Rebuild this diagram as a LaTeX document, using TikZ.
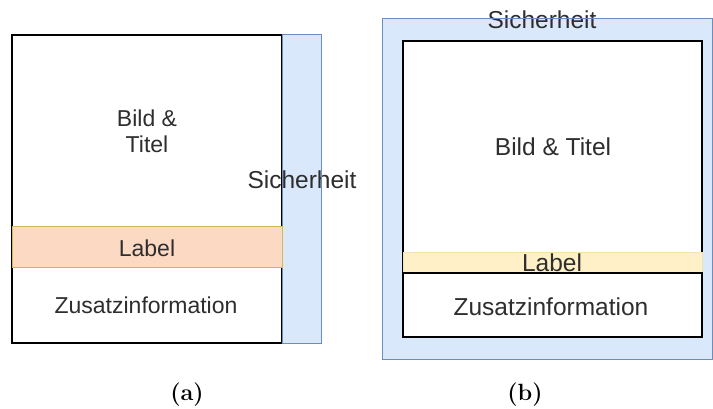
\documentclass[tikz,border=0pt]{standalone}
\usepackage{fontspec}
\newfontfamily\diagfont{Liberation Sans}
\definecolor{safefill}{HTML}{DAE8FC}
\definecolor{safeline}{HTML}{6C8EBF}
\definecolor{peachfill}{HTML}{FBD9C2}
\definecolor{goldline}{HTML}{D6B656}
\definecolor{creamfill}{HTML}{FFF0C8}
\definecolor{creamline}{HTML}{F2E2B0}
\definecolor{ink}{HTML}{2E2E2E}
\tikzset{
  safefillonly/.style={fill=safefill},
  safeedge/.style={draw=safeline, line width=1pt},
  framebox/.style={fill=white, draw=black, line width=1.4pt},
  txt/.style={font=\diagfont\fontsize{23}{26}\selectfont, text=ink, anchor=base, inner sep=0pt},
  txtb/.style={font=\diagfont\fontsize{24.5}{27}\selectfont, text=ink, anchor=base, inner sep=0pt},
  caption/.style={font=\bfseries\fontsize{23.5}{26}\selectfont, anchor=base, inner sep=0pt}
}
\begin{document}
\begin{tikzpicture}[x=1pt,y=-1pt]
\useasboundingbox (0,0) rectangle (713,409);

% ---- variant (a): safety strip on the right
\draw[framebox] (12,35) rectangle (282,343);
\fill[safefillonly] (282,35) rectangle (321,343);
\node[txtb] (a-safe) at (302,189) {Sicherheit};
\draw[safeedge] (282,35) rectangle (321,343);
\draw[fill=peachfill, draw=goldline, line width=1pt] (12,227) rectangle (282,267);
\node[txt] (a-img1) at (147,127) {Bild \&};
\node[txt] (a-img2) at (147,153) {Titel};
\node[txt] (a-label) at (147,256) {Label};
\node[txt] (a-extra) at (146,313) {Zusatzinformation};
\node[caption] (a-cap) at (187,400) {(a)};

% ---- variant (b): safety margin all around
\fill[safefillonly] (382,19) rectangle (712,359);
\node[txtb] (b-safe) at (542,29) {Sicherheit};
\draw[safeedge] (382,19) rectangle (712,359);
\draw[framebox] (403,41) rectangle (702,337);
\draw[fill=creamfill, draw=creamline, line width=0.8pt] (403,252) rectangle (702,273);
\node[txtb] (b-label) at (552,272) {Label};
\draw[framebox] (403,273) rectangle (702,337);
\node[txtb] (b-img) at (553,156) {Bild \& Titel};
\node[txtb] (b-extra) at (551,315) {Zusatzinformation};
\node[caption] (b-cap) at (525,400) {(b)};
\end{tikzpicture}
\end{document}
